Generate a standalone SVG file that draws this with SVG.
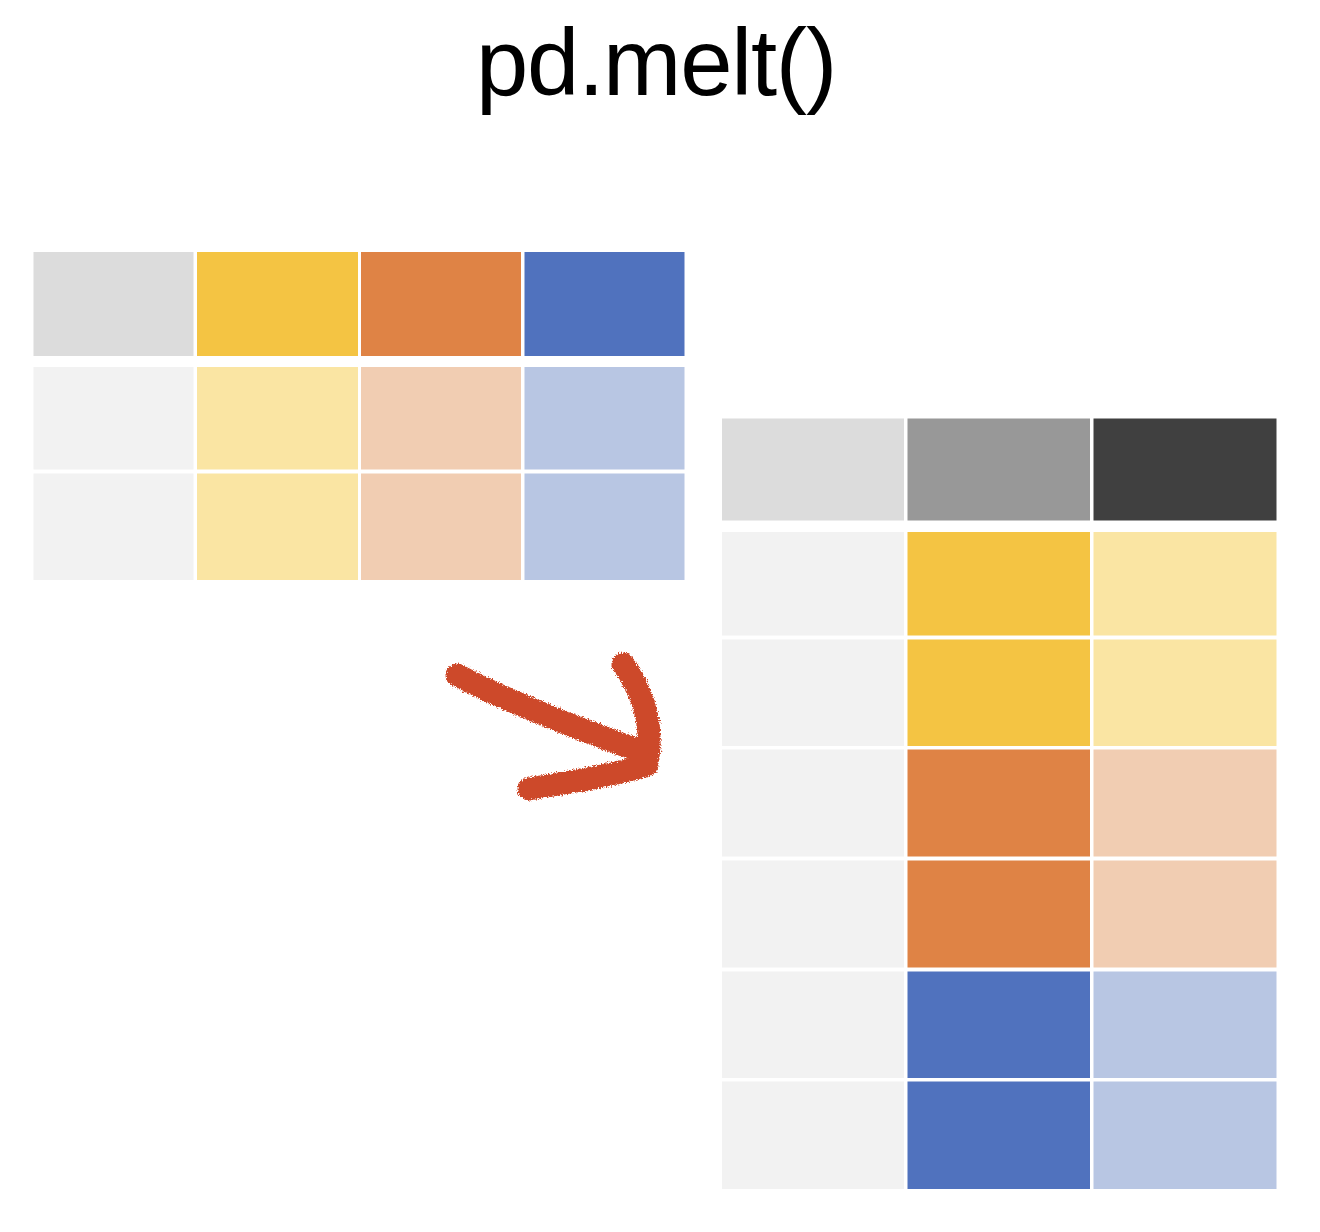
<svg xmlns="http://www.w3.org/2000/svg" width="1320" height="1232" viewBox="0 0 1320 1232">
<defs>
<style>
.title{font-family:"Liberation Sans",Arial,sans-serif;font-size:94px;fill:#000;letter-spacing:-1.2px}
.g0{fill:#dcdcdc}.g1{fill:#f2f2f2}.gm{fill:#989898}.gd{fill:#404040}
.y0{fill:#f4c443}.y1{fill:#fae5a3}
.o0{fill:#df8345}.o1{fill:#f1cdb2}
.b0{fill:#5072be}.b1{fill:#b8c6e3}
.arrow{fill:none;stroke:#cd4a2b;stroke-width:23;stroke-linecap:round;stroke-linejoin:round}
</style>
<filter id="rough" filterUnits="userSpaceOnUse" x="400" y="620" width="300" height="220">
<feTurbulence type="fractalNoise" baseFrequency="0.8" numOctaves="2" seed="3" result="n"/>
<feDisplacementMap in="SourceGraphic" in2="n" scale="6" xChannelSelector="R" yChannelSelector="G"/>
</filter>
</defs>
<rect width="1320" height="1232" fill="#fff"/>
<g id="title"><text class="title" x="656" y="95" text-anchor="middle">pd.melt()</text></g>
<g id="wide-table">
<rect class="g0" x="33.5" y="252" width="160" height="104"/>
<rect class="y0" x="197" y="252" width="161" height="104"/>
<rect class="o0" x="361" y="252" width="160" height="104"/>
<rect class="b0" x="524.5" y="252" width="160" height="104"/>
<rect class="g1" x="33.5" y="367" width="160" height="102.5"/>
<rect class="y1" x="197" y="367" width="161" height="102.5"/>
<rect class="o1" x="361" y="367" width="160" height="102.5"/>
<rect class="b1" x="524.5" y="367" width="160" height="102.5"/>
<rect class="g1" x="33.5" y="473.5" width="160" height="106.5"/>
<rect class="y1" x="197" y="473.5" width="161" height="106.5"/>
<rect class="o1" x="361" y="473.5" width="160" height="106.5"/>
<rect class="b1" x="524.5" y="473.5" width="160" height="106.5"/>
</g>
<g id="long-table">
<rect class="g0" x="722" y="418.5" width="182" height="102"/>
<rect class="gm" x="907.5" y="418.5" width="182.5" height="102"/>
<rect class="gd" x="1093.5" y="418.5" width="183" height="102"/>
<rect class="g1" x="722" y="532" width="182" height="103.5"/>
<rect class="y0" x="907.5" y="532" width="182.5" height="103.5"/>
<rect class="y1" x="1093.5" y="532" width="183" height="103.5"/>
<rect class="g1" x="722" y="639.5" width="182" height="106.5"/>
<rect class="y0" x="907.5" y="639.5" width="182.5" height="106.5"/>
<rect class="y1" x="1093.5" y="639.5" width="183" height="106.5"/>
<rect class="g1" x="722" y="749.5" width="182" height="107"/>
<rect class="o0" x="907.5" y="749.5" width="182.5" height="107"/>
<rect class="o1" x="1093.5" y="749.5" width="183" height="107"/>
<rect class="g1" x="722" y="860.5" width="182" height="107"/>
<rect class="o0" x="907.5" y="860.5" width="182.5" height="107"/>
<rect class="o1" x="1093.5" y="860.5" width="183" height="107"/>
<rect class="g1" x="722" y="971.5" width="182" height="106.5"/>
<rect class="b0" x="907.5" y="971.5" width="182.5" height="106.5"/>
<rect class="b1" x="1093.5" y="971.5" width="183" height="106.5"/>
<rect class="g1" x="722" y="1081.5" width="182" height="107.5"/>
<rect class="b0" x="907.5" y="1081.5" width="182.5" height="107.5"/>
<rect class="b1" x="1093.5" y="1081.5" width="183" height="107.5"/>
</g>
<g id="connectors" filter="url(#rough)">
<path class="arrow" d="M457 675 C 500 698, 560 722, 645 753"/>
<path class="arrow" d="M623 664 C 642 690, 653 720, 648 758"/>
<path class="arrow" d="M529 789 C 570 782, 610 776, 647 765"/>
</g>
</svg>
